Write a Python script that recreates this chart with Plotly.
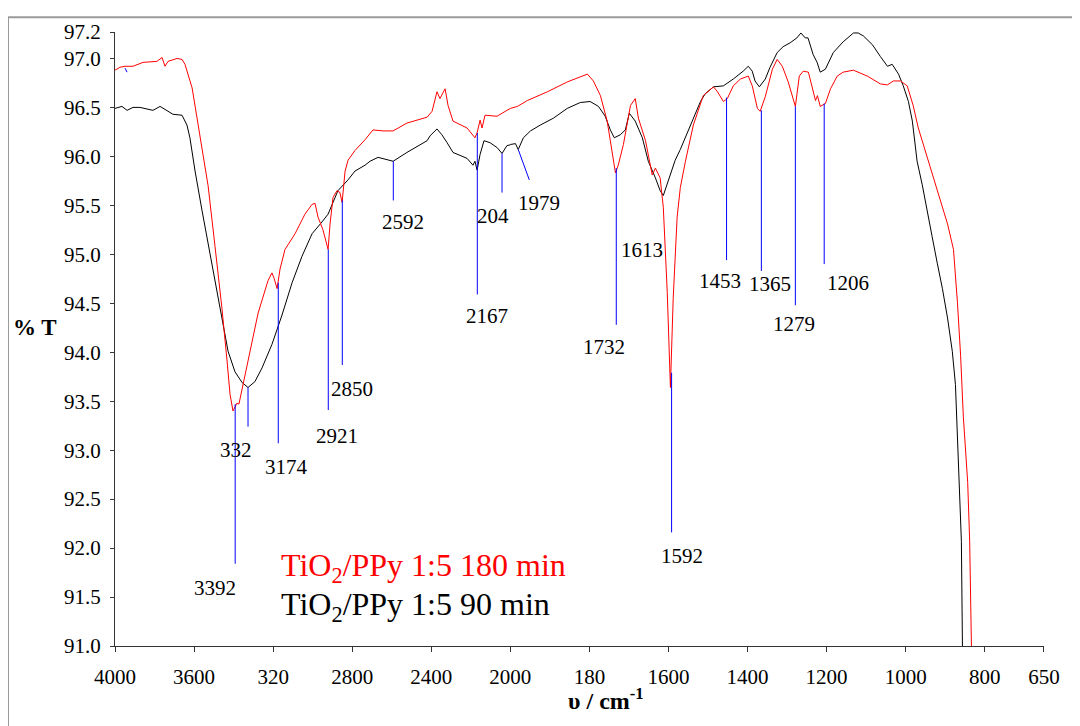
import plotly.graph_objects as go

# FTIR spectra, wavenumber (cm-1) vs %T
red_wn = [4000, 3975, 3949, 3909, 3858, 3788, 3762, 3747, 3732, 3686,
          3661, 3646, 3610, 3570, 3529, 3494, 3459, 3433, 3418, 3403,
          3383, 3373, 3352, 3307, 3276, 3226, 3206, 3196, 3180, 3165,
          3140, 3089, 3039, 3003, 2988, 2973, 2948, 2922, 2912, 2897,
          2877, 2862, 2851, 2836, 2821, 2786, 2735, 2695, 2644, 2593,
          2523, 2421, 2396, 2371, 2356, 2330, 2315, 2290, 2219, 2179,
          2168, 2153, 2143, 2128, 2067, 2017, 1982, 1957, 1906, 1856,
          1805, 1790, 1772, 1755, 1742, 1734, 1727, 1714, 1696, 1684,
          1676, 1658, 1641, 1633, 1621, 1613, 1603, 1595, 1588, 1578,
          1570, 1557, 1537, 1512, 1486, 1476, 1461, 1451, 1436, 1418,
          1398, 1388, 1375, 1368, 1355, 1337, 1325, 1312, 1297, 1279,
          1269, 1259, 1246, 1236, 1228, 1223, 1216, 1203, 1190, 1173,
          1158, 1132, 1097, 1064, 1046, 1031, 1013, 996, 981, 968,
          955, 943, 930, 912, 894, 879, 869, 861, 854, 843,
          838, 833]
red_t = [96.88, 96.91, 96.92, 96.92, 96.96, 96.97, 97.01, 96.92, 96.97, 97.00,
         96.99, 96.94, 96.70, 96.22, 95.70, 95.08, 94.45, 93.91, 93.57, 93.40,
         93.48, 93.47, 93.67, 94.10, 94.40, 94.73, 94.81, 94.76, 94.65, 94.85,
         95.05, 95.21, 95.41, 95.51, 95.52, 95.38, 95.25, 95.05, 95.31, 95.58,
         95.65, 95.63, 95.53, 95.85, 95.96, 96.06, 96.17, 96.27, 96.26, 96.26,
         96.34, 96.40, 96.46, 96.66, 96.59, 96.69, 96.52, 96.36, 96.29, 96.19,
         96.24, 96.37, 96.29, 96.42, 96.41, 96.47, 96.51, 96.57, 96.66, 96.76,
         96.84, 96.77, 96.62, 96.36, 96.02, 95.83, 95.91, 96.12, 96.52, 96.59,
         96.39, 96.16, 95.81, 95.88, 95.78, 95.48, 94.61, 93.64, 94.55, 95.38,
         95.68, 95.95, 96.32, 96.62, 96.71, 96.66, 96.56, 96.59, 96.72, 96.79,
         96.82, 96.72, 96.49, 96.46, 96.61, 96.89, 96.99, 96.92, 96.76, 96.51,
         96.82, 96.87, 96.86, 96.69, 96.57, 96.62, 96.51, 96.54, 96.69, 96.82,
         96.86, 96.88, 96.82, 96.74, 96.73, 96.77, 96.77, 96.72, 96.52, 96.29,
         96.12, 95.95, 95.78, 95.55, 95.31, 95.05, 94.51, 93.97, 93.34, 92.67,
         92.07, 90.86]

black_wn = [4000, 3965, 3939, 3909, 3874, 3848, 3808, 3772, 3737, 3707,
            3661, 3636, 3621, 3595, 3560, 3529, 3494, 3459, 3428, 3393,
            3357, 3327, 3292, 3256, 3206, 3155, 3104, 3054, 3003, 2953,
            2922, 2872, 2821, 2786, 2735, 2710, 2669, 2593, 2523, 2421,
            2406, 2371, 2346, 2320, 2290, 2219, 2189, 2179, 2168, 2153,
            2133, 2103, 2067, 2042, 2017, 1995, 1987, 1980, 1967, 1949,
            1924, 1891, 1856, 1823, 1798, 1777, 1760, 1747, 1737, 1722,
            1709, 1699, 1684, 1666, 1651, 1633, 1621, 1613, 1600, 1583,
            1570, 1545, 1519, 1507, 1486, 1461, 1436, 1411, 1398, 1388,
            1381, 1370, 1355, 1343, 1325, 1310, 1292, 1275, 1265, 1254,
            1247, 1234, 1224, 1216, 1203, 1183, 1158, 1132, 1120, 1107,
            1084, 1064, 1046, 1034, 1018, 1006, 993, 983, 971, 958,
            945, 933, 920, 907, 894, 882, 874, 869, 864, 859,
            856]
black_t = [96.49, 96.51, 96.47, 96.50, 96.50, 96.49, 96.47, 96.51, 96.47, 96.43,
           96.42, 96.32, 96.19, 95.85, 95.45, 95.11, 94.71, 94.35, 94.01, 93.80,
           93.69, 93.64, 93.70, 93.84, 94.08, 94.38, 94.71, 94.98, 95.21, 95.33,
           95.41, 95.65, 95.76, 95.85, 95.91, 95.95, 95.99, 95.95, 96.04, 96.16,
           96.21, 96.28, 96.22, 96.14, 96.04, 95.98, 95.91, 95.95, 95.86, 96.02,
           96.16, 96.14, 96.09, 96.03, 96.11, 96.12, 96.13, 96.07, 96.19, 96.26,
           96.32, 96.39, 96.49, 96.55, 96.56, 96.51, 96.41, 96.27, 96.19, 96.22,
           96.27, 96.44, 96.36, 96.19, 95.95, 95.78, 95.65, 95.60, 95.75, 95.96,
           96.07, 96.32, 96.56, 96.64, 96.71, 96.72, 96.79, 96.87, 96.92, 96.87,
           96.77, 96.71, 96.79, 96.91, 97.06, 97.12, 97.16, 97.21, 97.26, 97.21,
           97.21, 97.04, 96.96, 96.86, 96.89, 97.06, 97.17, 97.26, 97.26, 97.23,
           97.14, 97.02, 96.92, 96.94, 96.84, 96.72, 96.56, 96.36, 95.95, 95.71,
           95.45, 95.18, 94.91, 94.65, 94.35, 94.01, 93.67, 93.17, 92.67, 92.07,
           90.86]

# peak markers: wavenumber, line top/bottom (%T)
peak_wn = [3392, 3327, 3174, 2921, 2850, 2592, 2167, 2042, 1732, 1592, 1453, 1365, 1279, 1206]
peak_top = [93.47, 93.64, 94.71, 95.05, 95.55, 95.95, 96.24, 96.03, 95.88, 93.79, 96.60, 96.47, 96.51, 96.54]
peak_bot = [91.84, 93.24, 93.07, 93.41, 93.87, 95.55, 94.59, 95.63, 94.28, 92.16, 94.94, 94.83, 94.48, 94.90]

# label text and placement (wavenumber, %T)
labels = ["3392", "332", "3174", "2921", "2850", "2592", "2167", "204", "1979",
          "1613", "1732", "1592", "1453", "1365", "1279", "1206"]
label_wn = [3494, 3388, 3130, 2877, 2801, 2543, 2118, 2087, 1927,
            1666, 1762, 1565, 1469, 1342, 1282, 1145]
label_t = [91.59, 93.00, 92.83, 93.14, 93.62, 95.33, 94.37, 95.39, 95.52,
           95.04, 94.05, 91.92, 94.73, 94.70, 94.29, 94.71]

ticks_hi = [4000, 3600, 3200, 2800, 2400, 2000]
ticks_hi_text = ["4000", "3600", "320", "2800", "2400", "2000"]
ticks_lo = [1800, 1600, 1400, 1200, 1000, 800, 650]
ticks_lo_text = ["180", "1600", "1400", "1200", "1000", "800", "650"]

y_ticks = [91.0, 91.5, 92.0, 92.5, 93.0, 93.5, 94.0, 94.5, 95.0, 95.5, 96.0, 96.5, 97.0, 97.27]
y_ticks_text = ["91.0", "91.5", "92.0", "92.5", "93.0", "93.5", "94.0", "94.5",
                "95.0", "95.5", "96.0", "96.5", "97.0", "97.2"]

FONT = "Liberation Serif"
SPLIT = 5 / 11.75


def split(wn, t):
    # high part (>=2000) on xaxis, low part on xaxis2; one extra point each side, clipped
    i = next(k for k, w in enumerate(wn) if w < 2000)
    return (wn[:i + 1], t[:i + 1]), (wn[i - 1:], t[i - 1:])


fig = go.Figure()

for wn, t, color, name in [(black_wn, black_t, "black", "90 min"), (red_wn, red_t, "red", "180 min")]:
    (w1, t1), (w2, t2) = split(wn, t)
    fig.add_trace(go.Scatter(x=w1, y=t1, mode="lines", line=dict(color=color, width=1),
                             xaxis="x", yaxis="y", showlegend=False, name=name))
    fig.add_trace(go.Scatter(x=w2, y=t2, mode="lines", line=dict(color=color, width=1),
                             xaxis="x2", yaxis="y", showlegend=False, name=name))

# blue peak lines
for w, a, b in zip(peak_wn, peak_top, peak_bot):
    fig.add_shape(type="line", xref="x" if w >= 2000 else "x2", yref="y",
                  x0=w, x1=w, y0=a, y1=b, line=dict(color="#0000ff", width=1))
# slanted marker at 1979 and the stray tick near 3950
fig.add_shape(type="line", xref="x2", yref="y", x0=1980, x1=1952, y0=96.07, y1=95.76,
              line=dict(color="#0000ff", width=1))
fig.add_shape(type="line", xref="x", yref="y", x0=3949, x1=3939, y0=96.90, y1=96.86,
              line=dict(color="#0000ff", width=1))

for txt, w, t in zip(labels, label_wn, label_t):
    fig.add_annotation(x=w, y=t, xref="x" if w >= 2000 else "x2", yref="y", text=txt,
                       xanchor="center", yanchor="middle", showarrow=False,
                       font=dict(family=FONT, size=21, color="black"))

# legend as coloured text
fig.add_annotation(x=0.1765, y=0.128, xref="paper", yref="paper", xanchor="left", yanchor="middle",
                   text="TiO<sub>2</sub>/PPy 1:5 180 min", showarrow=False,
                   font=dict(family=FONT, size=32, color="red"))
fig.add_annotation(x=0.1765, y=0.064, xref="paper", yref="paper", xanchor="left", yanchor="middle",
                   text="TiO<sub>2</sub>/PPy 1:5 90 min", showarrow=False,
                   font=dict(family=FONT, size=32, color="black"))

# axis titles
fig.add_annotation(x=-0.086, y=0.519, xref="paper", yref="paper", text="<b>% T</b>",
                   xanchor="center", yanchor="middle", showarrow=False,
                   font=dict(family=FONT, size=23, color="black"))
fig.add_annotation(x=0.5285, y=-0.0865, xref="paper", yref="paper",
                   text="<b>υ / cm<sup>-1</sup></b>", xanchor="center", yanchor="middle",
                   showarrow=False, font=dict(family=FONT, size=24, color="black"))

# outer grey frame
fig.add_shape(type="rect", xref="paper", yref="paper", x0=-0.1152, x1=1.0344, y0=-0.16, y1=1.024,
              line=dict(color="#9a9a9a", width=2), layer="below")

axis_common = dict(showline=True, linecolor="#333333", linewidth=1, ticks="outside",
                   ticklen=5, tickwidth=1, tickcolor="#333333", showgrid=False, zeroline=False,
                   ticklabelstandoff=7, tickfont=dict(family=FONT, size=21, color="black"))

# page body has an 8px margin, so the figure is drawn 8px smaller and shifted
fig.update_layout(
    width=1072, height=718,
    margin=dict(l=107, r=36, t=14, b=80),
    paper_bgcolor="white", plot_bgcolor="white",
    showlegend=False,
    xaxis=dict(domain=[0, SPLIT], range=[4000, 2000], anchor="y",
               tickmode="array", tickvals=ticks_hi, ticktext=ticks_hi_text, **axis_common),
    xaxis2=dict(domain=[SPLIT, 1], range=[2000, 650], anchor="y",
                tickmode="array", tickvals=ticks_lo, ticktext=ticks_lo_text, **axis_common),
    yaxis=dict(range=[91.0, 97.27], anchor="x", tickmode="array", tickvals=y_ticks,
               ticktext=y_ticks_text, showline=True, linecolor="#333333", linewidth=1,
               ticks="outside", ticklen=4, tickcolor="#333333", showgrid=False, zeroline=False,
               ticklabelstandoff=5, tickfont=dict(family=FONT, size=21, color="black")),
)

fig.write_html("out.html")
